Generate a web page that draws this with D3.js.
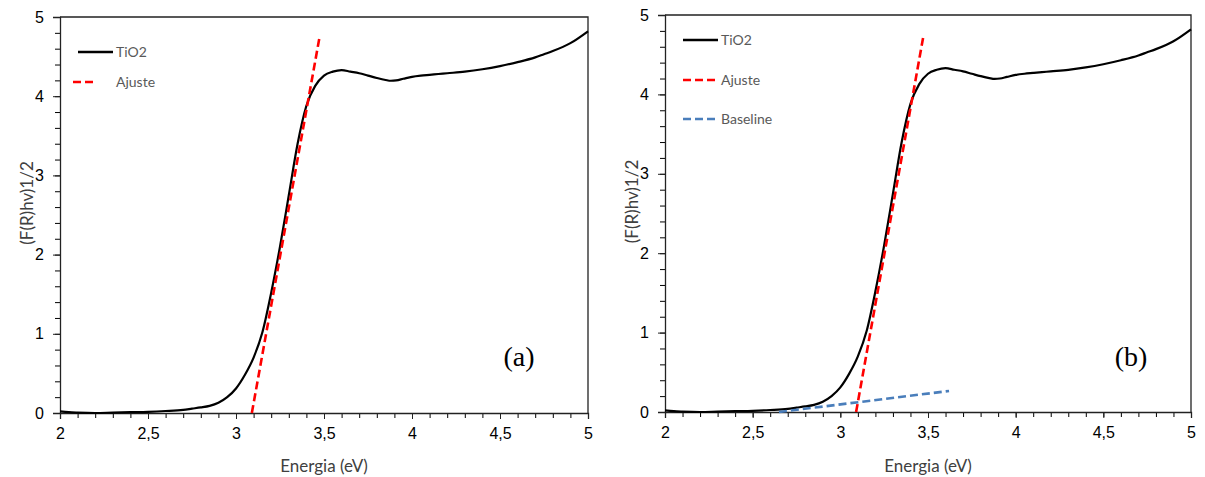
<!DOCTYPE html>
<html>
<head>
<meta charset="utf-8">
<script src="https://cdn.jsdelivr.net/npm/d3@7"></script>
<style>
  body { margin: 0; background: #fff; }
  svg { display: block; font-family: Lato, "Open Sans", sans-serif; }
</style>
</head>
<body>
<svg id="chart" width="1205" height="477"></svg>
<script>
// TiO2 curve (energy in eV, (F(R)hv)^1/2)
const energia = [2.0, 2.05, 2.1, 2.2, 2.3, 2.4, 2.5, 2.6, 2.7, 2.75, 2.8, 2.85, 2.9, 2.95,
  3.0, 3.05, 3.1, 3.15, 3.2, 3.25, 3.3, 3.35, 3.4, 3.45, 3.5, 3.55, 3.6, 3.65, 3.7, 3.75,
  3.8, 3.85, 3.88, 3.91, 3.95, 4.0, 4.05, 4.1, 4.15, 4.2, 4.3, 4.4, 4.5, 4.6, 4.7, 4.75, 4.8, 4.9, 5.0];
const tio2 = [0.02, 0.01, 0.005, 0.0, 0.005, 0.01, 0.015, 0.025, 0.04, 0.055, 0.07, 0.09, 0.13, 0.2,
  0.31, 0.48, 0.7, 1.02, 1.52, 2.1, 2.75, 3.4, 3.88, 4.13, 4.26, 4.31, 4.33, 4.31, 4.29, 4.26,
  4.23, 4.205, 4.195, 4.2, 4.22, 4.245, 4.26, 4.27, 4.28, 4.29, 4.31, 4.34, 4.38, 4.43, 4.49, 4.53, 4.57, 4.67, 4.82];

// linear fit ("Ajuste") and baseline
const ajusteX = [3.09, 3.475];
const ajusteY = [0, 4.75];
const baselineX = [2.65, 3.62];
const baselineY = [0, 0.265];

const xTicks = [2, 2.5, 3, 3.5, 4, 4.5, 5];
const yTicks = [0, 1, 2, 3, 4, 5];

const svg = d3.select("#chart");
const fmt = d => String(d).replace(".", ",");

function drawPanel(p) {
    const width = p.x1 - p.x0;
    const height = p.y0 - p.y1;
    const g = svg.append("g").attr("transform", `translate(${p.x0}, ${p.y1})`);

    const x = d3.scaleLinear().domain([2, 5]).range([0, width]);
    const y = d3.scaleLinear().domain([0, 5]).range([height, 0]);

    // minor ticks
    g.append("g")
        .attr("transform", `translate(0, ${height})`)
        .call(d3.axisBottom(x).tickValues(d3.range(20, 51).map(d => d / 10)).tickSize(5).tickFormat(""))
        .call(a => a.select(".domain").remove());
    g.append("g")
        .call(d3.axisLeft(y).tickValues(d3.range(0, 26).map(d => d / 5)).tickSize(5).tickFormat(""))
        .call(a => a.select(".domain").remove());

    // major axes
    const xAxis = g.append("g")
        .attr("transform", `translate(0, ${height})`)
        .call(d3.axisBottom(x).tickValues(xTicks).tickSize(6).tickPadding(9).tickFormat(fmt));
    const yAxis = g.append("g")
        .call(d3.axisLeft(y).tickValues(yTicks).tickSize(7).tickPadding(9).tickFormat(fmt));
    [xAxis, yAxis].forEach(a => {
        a.selectAll("text").style("font-size", "16px").attr("fill", "#000");
        a.selectAll("line").attr("stroke", "#222");
        a.select(".domain").attr("stroke", "#222").attr("stroke-width", 1.3);
    });

    // top and right frame
    g.append("path")
        .attr("d", `M0,${y(5)}H${x(5)}V${y(0)}`)
        .attr("fill", "none")
        .attr("stroke", "#222")
        .attr("stroke-width", 1.3);

    const line = d3.line().x(d => x(d[0])).y(d => y(d[1]));

    g.append("path")
        .datum(d3.zip(energia, tio2))
        .attr("d", d3.line().curve(d3.curveMonotoneX).x(d => x(d[0])).y(d => y(d[1])))
        .attr("fill", "none")
        .attr("stroke", "#000")
        .attr("stroke-width", 2.2);

    if (p.baseline) {
        g.append("path")
            .datum(d3.zip(baselineX, baselineY))
            .attr("d", line)
            .attr("fill", "none")
            .attr("stroke", "#4a7ebb")
            .attr("stroke-width", 2.6)
            .attr("stroke-dasharray", "8,4");
    }

    g.append("path")
        .datum(d3.zip(ajusteX, ajusteY))
        .attr("d", line)
        .attr("fill", "none")
        .attr("stroke", "#ff0000")
        .attr("stroke-width", 2.6)
        .attr("stroke-dasharray", "8,4");

    // axis titles
    svg.append("text")
        .attr("x", p.x0 + width / 2)
        .attr("y", 472)
        .style("text-anchor", "middle")
        .style("font-size", "17px")
        .attr("fill", "#404040")
        .text("Energia (eV)");

    svg.append("text")
        .attr("transform", `translate(${p.x0 - 34}, ${p.y1 + height / 2 - 12}) rotate(-90)`)
        .style("text-anchor", "middle")
        .attr("dominant-baseline", "central")
        .style("font-size", "17px")
        .attr("fill", "#404040")
        .text("(F(R)hv)1/2");

    // legend
    p.legend.forEach(l => {
        svg.append("line")
            .attr("x1", l.lx1).attr("x2", l.lx2)
            .attr("y1", l.y).attr("y2", l.y)
            .attr("stroke", l.color)
            .attr("stroke-width", l.dash ? 2.6 : 2.4)
            .attr("stroke-dasharray", l.dash ? "8,4" : null);
        svg.append("text")
            .attr("x", l.tx)
            .attr("y", l.y + 5)
            .style("font-size", "14px")
            .attr("fill", "#595959")
            .text(l.name);
    });

    // panel label
    svg.append("text")
        .attr("x", p.labelX)
        .attr("y", 366)
        .style("text-anchor", "middle")
        .style("font-family", "'Liberation Serif', 'DejaVu Serif', serif")
        .style("font-size", "28px")
        .attr("fill", "#000")
        .text(p.label);
}

drawPanel({
    x0: 60, x1: 588, y0: 413, y1: 17, label: "(a)", labelX: 519, baseline: false,
    legend: [
        { name: "TiO2", color: "#000", lx1: 78, lx2: 113, tx: 116, y: 52 },
        { name: "Ajuste", color: "#ff0000", dash: true, lx1: 73, lx2: 97, tx: 116, y: 82 }
    ]
});

drawPanel({
    x0: 665, x1: 1191, y0: 412, y1: 15, label: "(b)", labelX: 1131, baseline: true,
    legend: [
        { name: "TiO2", color: "#000", lx1: 683, lx2: 718, tx: 721, y: 40 },
        { name: "Ajuste", color: "#ff0000", dash: true, lx1: 683, lx2: 715, tx: 721, y: 80 },
        { name: "Baseline", color: "#4a7ebb", dash: true, lx1: 683, lx2: 717, tx: 721, y: 119 }
    ]
});
</script>
</body>
</html>
